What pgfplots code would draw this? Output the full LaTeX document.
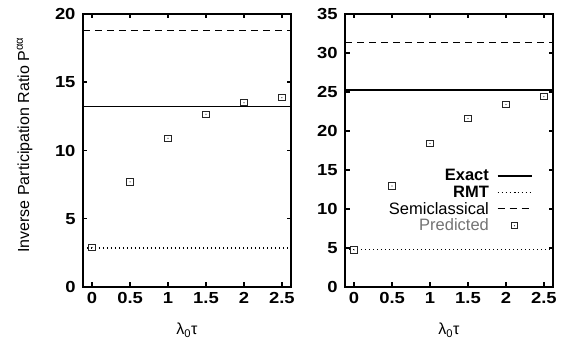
\documentclass[border=0pt]{standalone}
\usepackage{pgfplots}
\pgfplotsset{compat=1.18}
\usepackage{fontspec}
\setmainfont{Liberation Sans}
\pgfdeclareplotmark{sqdot}{%
  \pgfpathrectangle{\pgfpoint{-\pgfplotmarksize}{-\pgfplotmarksize}}{\pgfpoint{2\pgfplotmarksize}{2\pgfplotmarksize}}%
  \pgfusepathqstroke
  \pgfpathcircle{\pgfpointorigin}{0.6pt}%
  \pgfusepathqfill
}
\pgfplotsset{
  myax/.style={
    scale only axis, width=208pt, height=273pt,
    xmin=-0.12, xmax=2.62, xtick={0,0.5,1,1.5,2,2.5},
    /pgf/number format/assume math mode=true,
    axis line style={draw=none},
    after end axis/.code={\draw[line width=2.6pt, line join=miter] (rel axis cs:0,0) rectangle (rel axis cs:1,1);},
    tick style={line width=1.5pt, black},
    major tick length=4.5pt, tick align=inside,
    ticklabel style={font=\bfseries\fontsize{16pt}{19pt}\selectfont, xscale=1.15},
    xticklabel style={yshift=-2pt},
    yticklabel style={xshift=-3pt},
    xlabel={λ\textsubscript{0}τ},
    every axis x label/.style={at={(axis description cs:0.5,0)}, anchor=center, yshift=-43pt, font=\fontsize{16pt}{19pt}\selectfont},
    every axis y label/.style={at={(axis description cs:-0.28,0.52)}, rotate=90, anchor=center, font=\fontsize{16pt}{19pt}\selectfont},
    legend image code/.code={\draw[mark repeat=2,mark phase=2,#1] plot coordinates {(0pt,0pt) (17pt,0pt) (34pt,0pt)};},
  },
  exact/.style={black, line width=1.1pt},
  rmt/.style={black, line width=1.2pt, dash pattern=on 1.2pt off 2.8pt},
  semi/.style={black, line width=1.1pt, dash pattern=on 7pt off 5pt},
  pred/.style={only marks, mark=sqdot, mark size=3.2pt, black!85, mark options={line width=1pt}},
}
\begin{document}
\begin{tikzpicture}
\path (-83pt,-60pt) rectangle (482pt,287pt);
\begin{axis}[myax, at={(0pt,0pt)}, anchor=south west,
  ymin=0, ymax=20, ytick={0,5,10,15,20},
  ylabel={Inverse Participation Ratio P\textsuperscript{αα}}]
\addplot[exact] coordinates {(-0.12,13.25) (2.62,13.25)};
\addplot[rmt] coordinates {(-0.12,2.85) (2.62,2.85)};
\addplot[semi] coordinates {(-0.12,18.8) (2.62,18.8)};
\addplot[pred] coordinates {(0,2.9) (0.5,7.7) (1,10.9) (1.5,12.65) (2,13.5) (2.5,13.87)};
\end{axis}
\begin{axis}[myax, at={(262pt,0pt)}, anchor=south west,
  ymin=0, ymax=35, ytick={0,5,10,15,20,25,30,35},
  legend plot pos=right,
  legend cell align=right,
  legend style={draw=none, fill=none, at={(rel axis cs:0.915,0.315)}, anchor=east,
    font=\fontsize{16.5pt}{19pt}\selectfont, row sep=1pt, nodes={inner ysep=1.2pt},
    /tikz/every odd column/.append style={column sep=6pt}}]
\addplot[exact] coordinates {(-0.12,25.26) (2.62,25.26)};
\addlegendentry{\textbf{Exact}}
\addplot[rmt] coordinates {(-0.12,4.85) (2.62,4.85)};
\addlegendentry{\textbf{RMT}}
\addplot[semi] coordinates {(-0.12,31.4) (2.62,31.4)};
\addlegendentry{Semiclassical}
\addplot[pred] coordinates {(0,4.75) (0.5,12.95) (1,18.4) (1.5,21.6) (2,23.4) (2.5,24.4)};
\addlegendentry{\textcolor{black!55}{Predicted}}
\end{axis}
\end{tikzpicture}
\end{document}
